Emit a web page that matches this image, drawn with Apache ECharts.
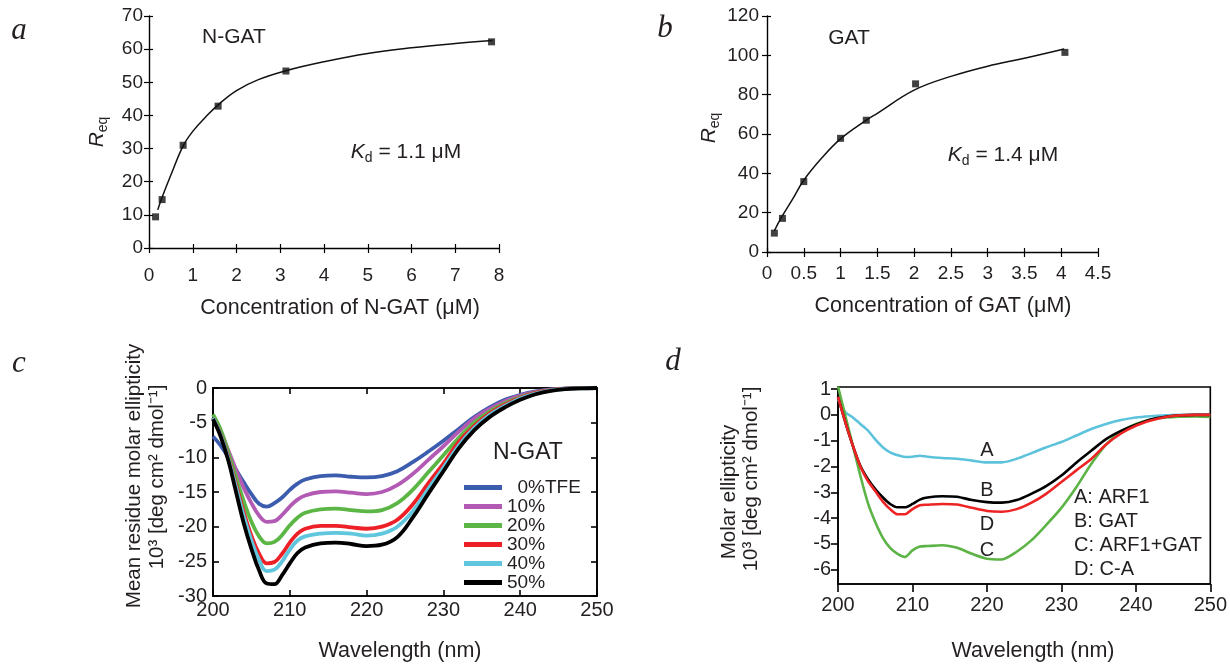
<!DOCTYPE html>
<html><head><meta charset="utf-8">
<script src="https://cdn.jsdelivr.net/npm/echarts@6/dist/echarts.min.js"></script>
<style>html,body{margin:0;padding:0;background:#fff}#c{width:1230px;height:664px}</style>
</head><body><div id="c"></div>
<script>
// ---- Panel a: N-GAT binding ----
const aConc = [0.15, 0.3, 0.78, 1.58, 3.13, 7.83];
const aReq = [9.4, 14.6, 31.0, 42.8, 53.4, 62.2];
const aFitX = [0.2, 0.3, 0.5, 0.78, 1.0, 1.3, 1.58, 2.0, 2.5, 3.13, 4, 5, 6, 7, 7.85];
const aFitY = [11.5, 15.3, 22.0, 30.8, 35.2, 39.6, 43.2, 47.5, 50.8, 53.5, 56.2, 58.7, 60.4, 61.7, 62.6];
// ---- Panel b: GAT binding ----
const bConc = [0.1, 0.21, 0.5, 1.0, 1.35, 2.02, 4.05];
const bReq = [9.6, 17.1, 35.8, 57.8, 67.0, 85.5, 101.5];
const bFitX = [0.1, 0.2, 0.35, 0.5, 0.75, 1.0, 1.35, 1.5, 2.0, 2.5, 3.0, 3.5, 4.04];
const bFitY = [10.8, 17.8, 27.0, 36.5, 48.0, 57.5, 67.0, 70.5, 82.3, 89.3, 94.5, 98.5, 103.2];
// ---- Panel c: CD spectra of N-GAT in TFE ----
const cNames = ['0%TFE', '10%', '20%', '30%', '40%', '50%'];
const cX = [200,201,202,203,204,205,206,207,208,209,210,211,212,214,216,218,220,222,224,226,228,230,232,234,236,238,240,242,244,246,248,250];
const c0 = [-7.0,-8.3,-10.0,-11.8,-13.6,-15.3,-16.7,-17.1,-16.6,-15.8,-14.7,-13.8,-13.2,-12.7,-12.6,-12.8,-12.9,-12.7,-12.0,-10.7,-9.2,-7.6,-5.9,-4.2,-2.8,-1.7,-1.0,-0.5,-0.2,-0.07,-0.02,0];
const c10 = [-4.3,-6.3,-9.0,-11.8,-14.4,-16.6,-18.4,-19.3,-19.2,-18.3,-17.1,-16.1,-15.5,-15.0,-14.9,-15.1,-15.3,-15.0,-14.0,-12.4,-10.4,-8.4,-6.3,-4.4,-3.0,-1.9,-1.1,-0.55,-0.25,-0.08,-0.02,0];
const c20 = [-3.8,-6.0,-9.3,-12.9,-16.3,-19.3,-21.4,-22.4,-22.2,-21.2,-19.8,-18.7,-18.0,-17.5,-17.4,-17.6,-17.8,-17.6,-16.6,-14.7,-12.2,-9.7,-7.2,-5.0,-3.4,-2.2,-1.3,-0.65,-0.3,-0.1,-0.03,0];
const c30 = [-4.3,-6.7,-10.0,-13.9,-17.9,-21.3,-23.9,-25.3,-25.1,-23.9,-22.3,-21.0,-20.3,-19.9,-19.9,-20.1,-20.3,-20.0,-19.0,-16.8,-13.8,-10.9,-7.8,-5.5,-3.7,-2.4,-1.4,-0.7,-0.3,-0.1,-0.03,0];
const c40 = [-4.3,-6.8,-10.2,-14.3,-18.5,-22.0,-24.8,-26.4,-26.2,-25.0,-23.3,-22.0,-21.4,-21.0,-20.9,-21.0,-21.3,-21.0,-20.0,-17.8,-14.6,-11.5,-8.3,-5.8,-3.9,-2.6,-1.5,-0.8,-0.35,-0.12,-0.04,0];
const c50 = [-4.5,-7.0,-10.5,-15.0,-19.5,-23.2,-26.3,-28.2,-28.3,-27.0,-25.3,-23.8,-23.0,-22.4,-22.3,-22.5,-22.8,-22.6,-21.5,-18.7,-15.3,-12.0,-8.7,-6.1,-4.2,-2.8,-1.7,-0.9,-0.4,-0.15,-0.05,0];
const cColors = ['#3c5cae', '#b35ab4', '#5cb646', '#ec2026', '#5fc6de', '#000000'];
// ---- Panel d: CD spectra ARF1 / GAT ----
const dNames = ['A: ARF1', 'B: GAT', 'C: ARF1+GAT', 'D: C-A'];
const dLetters = ['A', 'B', 'C', 'D'];
const dX = [200,201,202,203,204,205,206,207,208,209,210,211,212,214,216,218,220,222,224,226,228,230,232,234,236,238,240,242,244,246,248,250];
const dA = [0.6,0.1,-0.1,-0.35,-0.6,-0.95,-1.25,-1.45,-1.56,-1.63,-1.62,-1.58,-1.62,-1.67,-1.7,-1.77,-1.84,-1.84,-1.7,-1.48,-1.25,-1.05,-0.8,-0.55,-0.35,-0.2,-0.1,-0.05,-0.02,0,0,0];
const dB = [0.7,-0.3,-1.2,-1.97,-2.48,-2.87,-3.19,-3.45,-3.58,-3.58,-3.45,-3.28,-3.2,-3.15,-3.17,-3.3,-3.38,-3.4,-3.3,-3.05,-2.75,-2.35,-1.85,-1.39,-0.94,-0.62,-0.38,-0.18,-0.07,-0.02,0,0];
const dC = [1.1,-0.05,-1.2,-2.35,-3.4,-4.15,-4.75,-5.15,-5.38,-5.5,-5.25,-5.1,-5.08,-5.05,-5.15,-5.38,-5.57,-5.6,-5.3,-4.85,-4.25,-3.6,-2.8,-1.9,-1.15,-0.65,-0.35,-0.18,-0.1,-0.07,-0.06,-0.08];
const dD = [0.7,-0.3,-1.2,-2.0,-2.55,-2.95,-3.35,-3.65,-3.85,-3.85,-3.65,-3.5,-3.48,-3.45,-3.47,-3.6,-3.72,-3.75,-3.65,-3.4,-3.05,-2.6,-2.15,-1.71,-1.15,-0.72,-0.42,-0.22,-0.08,-0.02,0,0];
const dColors = ['#5dc3dc', '#000000', '#5cb346', '#ee2424'];
const dLabelPos = [[220, -1.39], [220, -2.94], [220, -5.26], [220, -4.23]];

const FONT = '"Liberation Sans", Arial, Helvetica, sans-serif';
const SERIF = '"Liberation Serif", "Times New Roman", serif';
const TXT = '#231f20';
const zip = (xs, ys) => xs.map((x, i) => [x, ys[i]]);

function axisBase(extra) {
  const base = {
    type: 'value',
    splitLine: { show: false },
    axisLine: { show: true, onZero: false, lineStyle: { color: '#000', width: 1.4 } },
    axisTick: { show: true, inside: false, length: 5, lineStyle: { color: '#000', width: 1.2 } },
    axisLabel: { show: true, color: TXT, fontFamily: FONT, fontSize: 19 }
  };
  const o = Object.assign(base, extra);
  o.axisLine = Object.assign({ onZero: false }, o.axisLine, { onZero: false });
  return o;
}
function dupAxis(extra) {
  return axisBase(Object.assign({
    axisLine: { show: false },
    axisTick: { show: true, inside: true, length: 4, lineStyle: { color: '#000', width: 1.2 } },
    axisLabel: { show: false }
  }, extra));
}

const chart = echarts.init(document.getElementById('c'), null, { renderer: 'canvas' });

const series = [];
series.push({ type: 'line', xAxisIndex: 0, yAxisIndex: 0, data: zip(aFitX, aFitY), smooth: 0.4, symbol: 'none', lineStyle: { color: '#111', width: 1.5 }, silent: true, z: 2 });
series.push({ type: 'scatter', xAxisIndex: 0, yAxisIndex: 0, data: zip(aConc, aReq), symbol: 'rect', symbolSize: 7, itemStyle: { color: '#111' }, z: 3 });
series.push({ type: 'line', xAxisIndex: 2, yAxisIndex: 2, data: zip(bFitX, bFitY), smooth: 0.4, symbol: 'none', lineStyle: { color: '#111', width: 1.5 }, silent: true, z: 2 });
series.push({ type: 'scatter', xAxisIndex: 2, yAxisIndex: 2, data: zip(bConc, bReq), symbol: 'rect', symbolSize: 7, itemStyle: { color: '#111' }, z: 3 });
[c0, c10, c20, c30, c40, c50].forEach((ys, i) => {
  series.push({ type: 'line', name: cNames[i], xAxisIndex: 4, yAxisIndex: 4, data: zip(cX, ys), smooth: 0.4, symbol: 'none',
    lineStyle: { color: cColors[i], width: 3.8 }, itemStyle: { color: cColors[i] }, z: 2 + i });
});
[dA, dB, dC, dD].forEach((ys, i) => {
  series.push({ type: 'line', name: dNames[i], xAxisIndex: 6, yAxisIndex: 6, data: zip(dX, ys), smooth: 0.25, symbol: 'none',
    lineStyle: { color: dColors[i], width: 2.6 }, itemStyle: { color: dColors[i] }, z: [2, 4, 3, 5][i],
    markPoint: { symbol: 'circle', symbolSize: 1, itemStyle: { color: 'rgba(0,0,0,0)' },
      label: { show: true, position: 'inside', formatter: dLetters[i], color: TXT, fontFamily: FONT, fontSize: 20 },
      data: [{ coord: dLabelPos[i], value: dLetters[i] }] } });
});

function txt(x, y, text, size, extra) {
  return Object.assign({ type: 'text', x: x, y: y, silent: true,
    style: Object.assign({ text: text, fill: TXT, font: size + 'px ' + FONT, textAlign: 'center', textVerticalAlign: 'middle', verticalAlign: 'middle' }, (extra && extra.style) || {}) },
    extra ? { rotation: extra.rotation || 0 } : {});
}
function rich(x, y, text, size, rot) {
  return { type: 'text', x: x, y: y, rotation: rot || 0, silent: true,
    style: { text: text, fill: TXT, fontFamily: FONT, fontSize: size, textAlign: 'center', textVerticalAlign: 'middle', verticalAlign: 'middle',
      rich: {
        i: { fontStyle: 'italic', fontFamily: FONT, fontSize: size, fill: TXT, color: TXT },
        s: { fontFamily: FONT, fontSize: Math.round(size * 0.68), verticalAlign: 'bottom', fill: TXT, color: TXT, padding: [Math.round(size*0.55), 0, 0, 0] },
        n: { fontFamily: FONT, fontSize: size, fill: TXT, color: TXT }
      } } };
}
function letter(x, y, t) {
  return { type: 'text', x: x, y: y, silent: true,
    style: { text: t, fill: TXT, font: 'italic 31px ' + SERIF, textAlign: 'center', textVerticalAlign: 'middle', verticalAlign: 'middle' } };
}
const mkTick = (inside, len) => ({ show: true, inside: inside, length: len, lineStyle: { color: '#000', width: 1.6 } });
const frameLine = { show: true, lineStyle: { color: '#000', width: 1.6 } };

const option = {
  animation: false,
  backgroundColor: '#ffffff',
  grid: [
    { left: 149, top: 16, width: 350, height: 232 },
    { left: 767, top: 16, width: 331, height: 236 },
    { left: 213, top: 388, width: 384, height: 208, show: true, borderColor: '#000', borderWidth: 1.6, backgroundColor: 'rgba(0,0,0,0)' },
    { left: 838, top: 387, width: 375, height: 197, show: true, borderColor: '#000', borderWidth: 1.6, backgroundColor: 'rgba(0,0,0,0)' }
  ],
  xAxis: [
    axisBase({ gridIndex: 0, min: 0, max: 8, interval: 1, position: 'bottom', axisLabel: { color: TXT, fontFamily: FONT, fontSize: 19, margin: 18 } }),
    dupAxis({ gridIndex: 0, min: 0, max: 8, interval: 1, position: 'bottom' }),
    axisBase({ gridIndex: 1, min: 0, max: 4.5, interval: 0.5, position: 'bottom', axisLabel: { color: TXT, fontFamily: FONT, fontSize: 19, margin: 12 } }),
    dupAxis({ gridIndex: 1, min: 0, max: 4.5, interval: 0.5, position: 'bottom' }),
    axisBase({ gridIndex: 2, min: 200, max: 250, interval: 10, position: 'bottom', axisLine: frameLine, axisTick: mkTick(true, 6),
      axisLabel: { color: TXT, fontFamily: FONT, fontSize: 20, margin: 4 } }),
    dupAxis({ gridIndex: 2, min: 200, max: 250, interval: 10, position: 'top', axisLine: frameLine, axisTick: mkTick(true, 6) }),
    axisBase({ gridIndex: 3, min: 200, max: 250, interval: 10, position: 'bottom', axisLine: frameLine, axisTick: mkTick(false, 8),
      axisLabel: { color: TXT, fontFamily: FONT, fontSize: 20, margin: 11 } })
  ],
  yAxis: [
    axisBase({ gridIndex: 0, min: 0, max: 70, interval: 10, position: 'left', axisLabel: { color: TXT, fontFamily: FONT, fontSize: 19, margin: 6 } }),
    dupAxis({ gridIndex: 0, min: 0, max: 70, interval: 10, position: 'left' }),
    axisBase({ gridIndex: 1, min: 0, max: 120, interval: 20, position: 'left', axisLabel: { color: TXT, fontFamily: FONT, fontSize: 19, margin: 8 } }),
    dupAxis({ gridIndex: 1, min: 0, max: 120, interval: 20, position: 'left' }),
    axisBase({ gridIndex: 2, min: -30, max: 0, interval: 5, position: 'left', axisLine: frameLine, axisTick: mkTick(true, 6),
      axisLabel: { color: TXT, fontFamily: FONT, fontSize: 20, margin: 6 } }),
    dupAxis({ gridIndex: 2, min: -30, max: 0, interval: 5, position: 'right', axisLine: frameLine, axisTick: mkTick(true, 6) }),
    axisBase({ gridIndex: 3, min: -6.55, max: 1.08, splitNumber: 7, position: 'left', axisLine: frameLine,
      axisTick: mkTick(false, 7),
      axisLabel: { color: TXT, fontFamily: FONT, fontSize: 20, margin: 7, showMinLabel: false, showMaxLabel: false } })
  ],
  legend: {
    data: cNames, orient: 'vertical', left: 464, top: 478, padding: 0, itemWidth: 38, itemHeight: 5, itemGap: 0, icon: 'rect',
    selectedMode: false,
    formatter: n => n === '0%TFE' ? '  0%TFE' : n,
    textStyle: { color: TXT, fontFamily: FONT, fontSize: 19, lineHeight: 18, padding: [0, 0, 0, 0] }
  },
  series: series,
  graphic: [
    letter(19, 31, 'a'), letter(665, 29, 'b'), letter(19, 364, 'c'), letter(673, 362, 'd'),
    // panel a texts
    txt(234, 37, 'N-GAT', 21),
    rich(406, 152, '{i|K}{s|d}{n| = 1.1 μM}', 21),
    rich(97, 132, '{i|R}{s|eq}', 21, Math.PI / 2),
    txt(340, 308, 'Concentration of N-GAT (μM)', 21.5),
    // panel b texts
    txt(849, 38, 'GAT', 21),
    rich(1003, 155, '{i|K}{s|d}{n| = 1.4 μM}', 21),
    rich(709, 128, '{i|R}{s|eq}', 21, Math.PI / 2),
    txt(943, 306, 'Concentration of GAT (μM)', 21.5),
    // panel c texts
    txt(528, 453, 'N-GAT', 23),
    txt(134, 476, 'Mean residue molar ellipticity', 20.5, { rotation: Math.PI / 2 }),
    txt(157, 477, '10³ [deg cm² dmol⁻¹]', 20.5, { rotation: Math.PI / 2 }),
    txt(400, 651, 'Wavelength (nm)', 21.5),
    // panel d texts
    txt(729, 492, 'Molar ellipticity', 20.5, { rotation: Math.PI / 2 }),
    txt(751, 479, '10³ [deg cm² dmol⁻¹]', 20.5, { rotation: Math.PI / 2 }),
    txt(1033, 651, 'Wavelength (nm)', 21.5),
    txt(1074, 497, dNames[0], 20, { style: { textAlign: 'left' } }),
    txt(1074, 521, dNames[1], 20, { style: { textAlign: 'left' } }),
    txt(1074, 545, dNames[2], 20, { style: { textAlign: 'left' } }),
    txt(1074, 569, dNames[3], 20, { style: { textAlign: 'left' } })
  ]
};
chart.setOption(option);
</script></body></html>
